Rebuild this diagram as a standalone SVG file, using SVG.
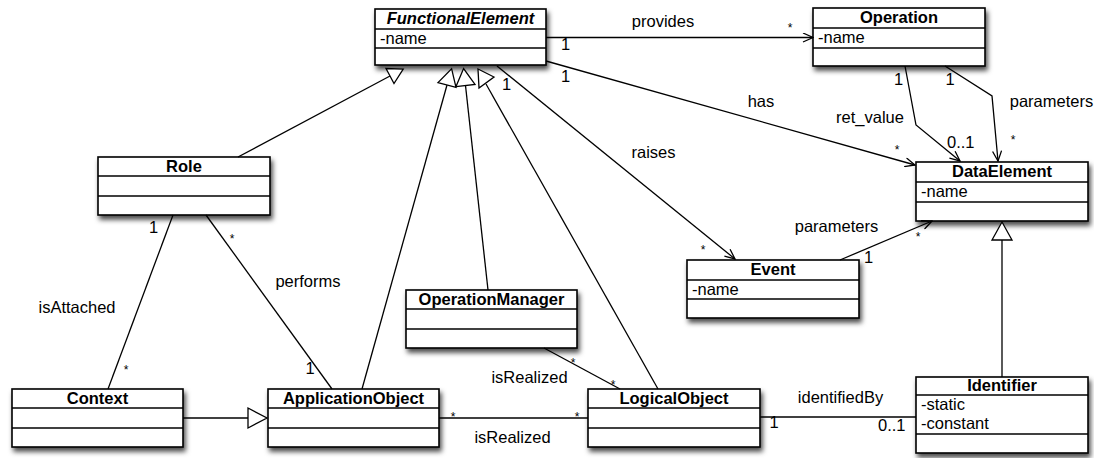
<svg xmlns="http://www.w3.org/2000/svg" width="1094" height="458" viewBox="0 0 1094 458">
  <defs>
    <filter id="shadow" x="-10%" y="-20%" width="130%" height="160%">
      <feDropShadow dx="2" dy="4" stdDeviation="2.8" flood-color="#000" flood-opacity="0.7"/>
    </filter>
    <style>
      text { font-family: "Liberation Sans", Arial, Helvetica, sans-serif; font-size: 16.5px; fill: #000; }
      .title { font-weight: bold; text-anchor: middle; }
      .abstract { font-style: italic; }
      .mid { text-anchor: middle; }
      .star { font-size: 12px; text-anchor: middle; }
      .box { fill: #fff; stroke: #000; stroke-width: 1.6; filter: url(#shadow); }
      .sep { stroke: #000; stroke-width: 1.4; }
      .edge { fill: none; stroke: #000; stroke-width: 1.3; }
      .gen { fill: #fff; stroke: #000; stroke-width: 1.3; stroke-linejoin: miter; }
    </style>
    <marker id="open" viewBox="0 0 12 10" refX="11" refY="5" markerWidth="12" markerHeight="10" markerUnits="userSpaceOnUse" orient="auto">
      <path d="M1,0.5 L11,5 L1,9.5" fill="none" stroke="#000" stroke-width="1.3"/>
    </marker>
  </defs>

  <rect width="1094" height="458" fill="#fff"/>

  <!-- class boxes -->
  <g id="FunctionalElement">
    <rect class="box" x="375" y="9" width="171" height="56"/>
    <line class="sep" x1="375" y1="29" x2="546" y2="29"/>
    <line class="sep" x1="375" y1="48" x2="546" y2="48"/>
    <text class="title abstract" x="460.5" y="24">FunctionalElement</text>
    <text x="380" y="44">-name</text>
  </g>
  <g id="Operation">
    <rect class="box" x="813" y="8" width="172" height="58"/>
    <line class="sep" x1="813" y1="28" x2="985" y2="28"/>
    <line class="sep" x1="813" y1="48" x2="985" y2="48"/>
    <text class="title" x="899" y="23">Operation</text>
    <text x="818" y="43">-name</text>
  </g>
  <g id="DataElement">
    <rect class="box" x="916" y="162" width="172" height="59"/>
    <line class="sep" x1="916" y1="182" x2="1088" y2="182"/>
    <line class="sep" x1="916" y1="202" x2="1088" y2="202"/>
    <text class="title" x="1002" y="177">DataElement</text>
    <text x="921" y="197">-name</text>
  </g>
  <g id="Role">
    <rect class="box" x="98" y="157" width="172" height="58"/>
    <line class="sep" x1="98" y1="176" x2="270" y2="176"/>
    <line class="sep" x1="98" y1="196" x2="270" y2="196"/>
    <text class="title" x="184" y="172">Role</text>
  </g>
  <g id="Event">
    <rect class="box" x="687" y="260" width="172" height="58"/>
    <line class="sep" x1="687" y1="280" x2="859" y2="280"/>
    <line class="sep" x1="687" y1="299" x2="859" y2="299"/>
    <text class="title" x="773" y="275">Event</text>
    <text x="692" y="295">-name</text>
  </g>
  <g id="OperationManager">
    <rect class="box" x="406" y="290" width="171" height="58"/>
    <line class="sep" x1="406" y1="309" x2="577" y2="309"/>
    <line class="sep" x1="406" y1="329" x2="577" y2="329"/>
    <text class="title" x="491.5" y="305">OperationManager</text>
  </g>
  <g id="Context">
    <rect class="box" x="12" y="389" width="171" height="58"/>
    <line class="sep" x1="12" y1="408" x2="183" y2="408"/>
    <line class="sep" x1="12" y1="428" x2="183" y2="428"/>
    <text class="title" x="97.5" y="404">Context</text>
  </g>
  <g id="ApplicationObject">
    <rect class="box" x="268" y="389" width="171" height="58"/>
    <line class="sep" x1="268" y1="408" x2="439" y2="408"/>
    <line class="sep" x1="268" y1="428" x2="439" y2="428"/>
    <text class="title" x="353.5" y="404">ApplicationObject</text>
  </g>
  <g id="LogicalObject">
    <rect class="box" x="588" y="389" width="172" height="58"/>
    <line class="sep" x1="588" y1="408" x2="760" y2="408"/>
    <line class="sep" x1="588" y1="428" x2="760" y2="428"/>
    <text class="title" x="674" y="404">LogicalObject</text>
  </g>
  <g id="Identifier">
    <rect class="box" x="916" y="377" width="172" height="76"/>
    <line class="sep" x1="916" y1="395" x2="1088" y2="395"/>
    <line class="sep" x1="916" y1="434" x2="1088" y2="434"/>
    <text class="title" x="1002" y="391">Identifier</text>
    <text x="921" y="410">-static</text>
    <text x="921" y="429">-constant</text>
  </g>

  <!-- associations and generalizations -->
  <g id="connectors">
    <!-- FunctionalElement provides Operation -->
    <line class="edge" x1="546" y1="37.5" x2="813" y2="37.5" marker-end="url(#open)"/>
    <text class="mid" x="663" y="27">provides</text>
    <text x="561" y="49.5">1</text>
    <text class="star" x="790" y="32">*</text>

    <!-- FunctionalElement has DataElement -->
    <line class="edge" x1="546" y1="61" x2="915" y2="165" marker-end="url(#open)"/>
    <text class="mid" x="761" y="107">has</text>
    <text x="561" y="82">1</text>
    <text class="star" x="897" y="154">*</text>

    <!-- FunctionalElement raises Event -->
    <line class="edge" x1="497" y1="66" x2="735" y2="259" marker-end="url(#open)"/>
    <text class="mid" x="653.5" y="158">raises</text>
    <text class="mid" x="506.5" y="90">1</text>
    <text class="star" x="703" y="254">*</text>

    <!-- Operation ret_value DataElement -->
    <polyline class="edge" points="905,66 916,125 960,161" marker-end="url(#open)"/>
    <text class="mid" x="870" y="123">ret_value</text>
    <text class="mid" x="898.5" y="85">1</text>
    <text x="947" y="148">0..1</text>

    <!-- Operation parameters DataElement -->
    <polyline class="edge" points="945,66 992,96 998,161" marker-end="url(#open)"/>
    <text class="mid" x="1051.5" y="106.5">parameters</text>
    <text class="mid" x="950" y="85">1</text>
    <text class="star" x="1013" y="144">*</text>

    <!-- Event parameters DataElement -->
    <line class="edge" x1="840" y1="260" x2="932" y2="221" marker-end="url(#open)"/>
    <text class="mid" x="836.5" y="232">parameters</text>
    <text class="mid" x="868.5" y="263">1</text>
    <text class="star" x="918" y="240.5">*</text>

    <!-- generalizations to FunctionalElement -->
    <line class="edge" x1="238" y1="157" x2="390" y2="76"/>
    <polygon class="gen" points="386,68.5 394,83.5 403.2,69"/>
    <line class="edge" x1="362" y1="389" x2="447" y2="85"/>
    <polygon class="gen" points="438,82.6 456,87.4 451.6,68.7"/>
    <line class="edge" x1="488" y1="290" x2="465.5" y2="85.5"/>
    <polygon class="gen" points="456,86.6 475,84.4 463.6,68.6"/>
    <line class="edge" x1="658" y1="389" x2="486" y2="84"/>
    <polygon class="gen" points="478,69 494,77 479,88"/>

    <!-- Context generalizes to ApplicationObject -->
    <line class="edge" x1="183" y1="418" x2="248" y2="418"/>
    <polygon class="gen" points="248,408 248,428 267,418"/>

    <!-- Identifier generalizes to DataElement -->
    <line class="edge" x1="1002" y1="377" x2="1002" y2="240"/>
    <polygon class="gen" points="992,240 1012,240 1002,222"/>

    <!-- Role isAttached Context -->
    <line class="edge" x1="173" y1="215" x2="108" y2="389"/>
    <text class="mid" x="77" y="313">isAttached</text>
    <text class="mid" x="153.5" y="233">1</text>
    <text class="star" x="126" y="374">*</text>

    <!-- Role performs ApplicationObject -->
    <line class="edge" x1="206" y1="215" x2="332" y2="389"/>
    <text class="mid" x="308" y="287">performs</text>
    <text class="star" x="232" y="242.5">*</text>
    <text class="mid" x="310" y="374">1</text>

    <!-- OperationManager isRealized LogicalObject -->
    <line class="edge" x1="544" y1="348" x2="620" y2="389"/>
    <text class="mid" x="529.5" y="383">isRealized</text>
    <text class="star" x="573" y="366.5">*</text>
    <text class="star" x="613" y="388.5">*</text>

    <!-- ApplicationObject isRealized LogicalObject -->
    <line class="edge" x1="439" y1="418" x2="588" y2="418"/>
    <text class="mid" x="512.5" y="443">isRealized</text>
    <text class="star" x="453" y="420.5">*</text>
    <text class="star" x="577" y="420.5">*</text>

    <!-- LogicalObject identifiedBy Identifier -->
    <line class="edge" x1="760" y1="417" x2="916" y2="417"/>
    <text class="mid" x="840.5" y="403">identifiedBy</text>
    <text class="mid" x="774" y="428">1</text>
    <text x="878" y="431">0..1</text>
  </g>
</svg>
